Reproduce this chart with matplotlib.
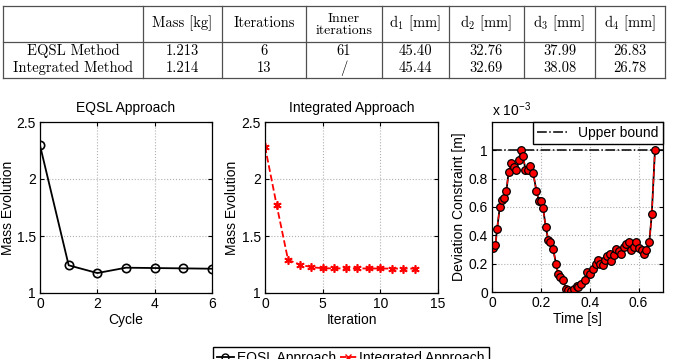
import numpy as np
import matplotlib
matplotlib.use('Agg')
import matplotlib.pyplot as plt
from matplotlib.lines import Line2D
from matplotlib.ticker import FuncFormatter

plt.rcParams['font.family'] = ['Liberation Sans', 'DejaVu Sans']
plt.rcParams['font.size'] = 10
plt.rcParams['mathtext.fontset'] = 'custom'
plt.rcParams['mathtext.rm'] = 'Liberation Sans'
plt.rcParams['mathtext.it'] = 'Liberation Sans:italic'

# ---- table data ----
col_heads = ['Mass [kg]', 'Iterations', None, r'd$_1$ [mm]', r'd$_2$ [mm]',
             r'd$_3$ [mm]', r'd$_4$ [mm]']
row_names = ['EQSL Method', 'Integrated Method']
row_eqsl = ['1.213', '6', '61', '45.40', '32.76', '37.99', '26.83']
row_integ = ['1.214', '13', '/', '45.44', '32.69', '38.08', '26.78']

# ---- mass evolution ----
cycle = [0, 1, 2, 3, 4, 5, 6]
mass_eqsl = [2.295, 1.243, 1.175, 1.222, 1.219, 1.216, 1.213]
iteration = [0, 1, 2, 3, 4, 5, 6, 7, 8, 9, 10, 11, 12, 13]
mass_integ = [2.285, 1.776, 1.29, 1.25, 1.227, 1.217, 1.216, 1.216, 1.215,
              1.215, 1.215, 1.214, 1.214, 1.214]

# ---- deviation constraint (x 1e-3 m) ----
time_s = [0.004, 0.014, 0.021, 0.032, 0.041, 0.049, 0.059, 0.068, 0.079, 0.090,
          0.100, 0.110, 0.118, 0.127, 0.137, 0.148, 0.157, 0.168, 0.182, 0.192,
          0.200, 0.209, 0.220, 0.230, 0.239, 0.250, 0.262, 0.271, 0.280, 0.292,
          0.301, 0.312, 0.323, 0.336, 0.346, 0.352, 0.366, 0.379, 0.389, 0.402,
          0.414, 0.424, 0.434, 0.444, 0.455, 0.461, 0.471, 0.482, 0.489, 0.498,
          0.509, 0.519, 0.530, 0.539, 0.550, 0.560, 0.571, 0.580, 0.591, 0.601,
          0.612, 0.623, 0.632, 0.644, 0.654, 0.667]
deviation = [0.313, 0.33, 0.447, 0.60, 0.652, 0.666, 0.713, 0.847, 0.91, 0.88,
             0.864, 0.934, 1.0, 0.958, 0.864, 0.86, 0.887, 0.842, 0.713, 0.642,
             0.64, 0.593, 0.459, 0.369, 0.353, 0.306, 0.20, 0.125, 0.106, 0.087,
             0.024, 0.012, 0.007, 0.024, 0.04, 0.035, 0.054, 0.087, 0.141, 0.125,
             0.165, 0.20, 0.228, 0.20, 0.188, 0.228, 0.252, 0.27, 0.219, 0.259,
             0.306, 0.289, 0.27, 0.318, 0.341, 0.353, 0.299, 0.318, 0.353, 0.313,
             0.294, 0.27, 0.294, 0.353, 0.548, 1.0]
upper_bound = 1.0

W, H = 677, 359
fig = plt.figure(figsize=(W / 100, H / 100), dpi=100)

short = FuncFormatter(lambda v, p: ('%g' % v))


def px_axes(left, top, right, bottom):
    return fig.add_axes([left / W, 1 - bottom / H, (right - left) / W, (bottom - top) / H])


def style(ax):
    ax.tick_params(direction='in', top=True, right=True, length=3, width=0.8, pad=3)
    ax.grid(True, linestyle=':', color='#b0b0b0', linewidth=0.8)
    ax.xaxis.set_major_formatter(short)
    ax.yaxis.set_major_formatter(short)
    for s in ax.spines.values():
        s.set_linewidth(0.9)


# ---- table drawn on an overlay ----
tab = fig.add_axes([0, 0, 1, 1])
tab.set_xlim(0, W)
tab.set_ylim(H, 0)
tab.axis('off')
col_edges = [3, 143, 222, 306, 382, 449, 524, 595, 665]
line_kw = dict(color='#505050', linewidth=0.9)
tab.plot([3, 665], [6, 6], **line_kw)
tab.plot([3, 665], [42, 42], **line_kw)
tab.plot([3, 665], [78, 78], **line_kw)
for x in col_edges:
    tab.plot([x, x], [6, 78], **line_kw)
centers = [(a + b) / 2 for a, b in zip(col_edges[:-1], col_edges[1:])]
tkw = dict(family='cmr10', math_fontfamily='cm', fontsize=10.5, ha='center', va='center')
for c, head in zip(centers[1:], col_heads):
    if head is None:
        tab.text(c, 19, 'Inner', **{**tkw, 'fontsize': 10})
        tab.text(c, 30.5, 'iterations', **{**tkw, 'fontsize': 10})
    else:
        tab.text(c, 23, head, **tkw)
for y, name, row in [(51, row_names[0], row_eqsl), (68, row_names[1], row_integ)]:
    tab.text(centers[0], y, name, **tkw)
    for c, v in zip(centers[1:], row):
        tab.text(c, y, v, **tkw)

# ---- EQSL ----
ax1 = px_axes(40, 122, 212, 293)
ax1.plot(cycle, mass_eqsl, '-o', color='black', mfc='none', ms=6, mew=1.2, lw=1.3)
ax1.set_xlim(0, 6)
ax1.set_ylim(1, 2.5)
ax1.set_xticks([0, 2, 4, 6])
ax1.set_yticks([1, 1.5, 2, 2.5])
ax1.set_title('EQSL Approach', fontsize=10, pad=7)
ax1.set_xlabel('Cycle', labelpad=1)
ax1.set_ylabel('Mass Evolution', labelpad=1)
style(ax1)

# ---- Integrated ----
ax2 = px_axes(265, 122, 438, 293)
ax2.plot(iteration, mass_integ, '--', color='red', marker=(6, 2, 0), ms=6, mew=1.2, lw=1.3)
ax2.set_xlim(0, 15)
ax2.set_ylim(1, 2.5)
ax2.set_xticks([0, 5, 10, 15])
ax2.set_yticks([1, 1.5, 2, 2.5])
ax2.set_title('Integrated Approach', fontsize=10, pad=7)
ax2.set_xlabel('Iteration', labelpad=1)
ax2.set_ylabel('Mass Evolution', labelpad=2)
style(ax2)

# ---- Deviation ----
ax3 = px_axes(492, 122, 663, 292)
ub = ax3.axhline(upper_bound, color='black', linestyle='-.', lw=1.1, label='Upper bound')
ax3.plot(time_s, deviation, '-', color='black', lw=1.3)
ax3.plot(time_s, deviation, '--o', color='red', mec='black', mfc='red', ms=5.5, mew=0.9, lw=1.0)
ax3.set_xlim(0, 0.7)
ax3.set_ylim(0, 1.2)
ax3.set_xticks([0, 0.2, 0.4, 0.6])
ax3.set_yticks([0, 0.2, 0.4, 0.6, 0.8, 1.0])
ax3.set_xlabel('Time [s]', labelpad=1)
ax3.set_ylabel('Deviation Constraint [m]', labelpad=2)
ax3.text(0, 1.02, r'x 10$^{-3}$', transform=ax3.transAxes, ha='left', va='bottom', fontsize=10)
ax3.legend(handles=[ub], loc='upper right', borderaxespad=0, fancybox=False,
           edgecolor='black', framealpha=1, handlelength=2.2, borderpad=0.3)
style(ax3)

# ---- bottom legend ----
h1 = Line2D([], [], color='black', marker='o', mfc='none', ms=5, lw=1.3, label='EQSL Approach')
h2 = Line2D([], [], color='red', linestyle='--', marker='x', ms=5, lw=1.3, label='Integrated Approach')
fig.legend(handles=[h1, h2], loc='upper center', bbox_to_anchor=(351 / W, 1 - 347 / H),
           ncol=2, fancybox=False, edgecolor='black', framealpha=1, handlelength=1.2,
           columnspacing=0.3, handletextpad=0.2, borderpad=0.3, borderaxespad=0)

fig.savefig('out.png', dpi=100)
